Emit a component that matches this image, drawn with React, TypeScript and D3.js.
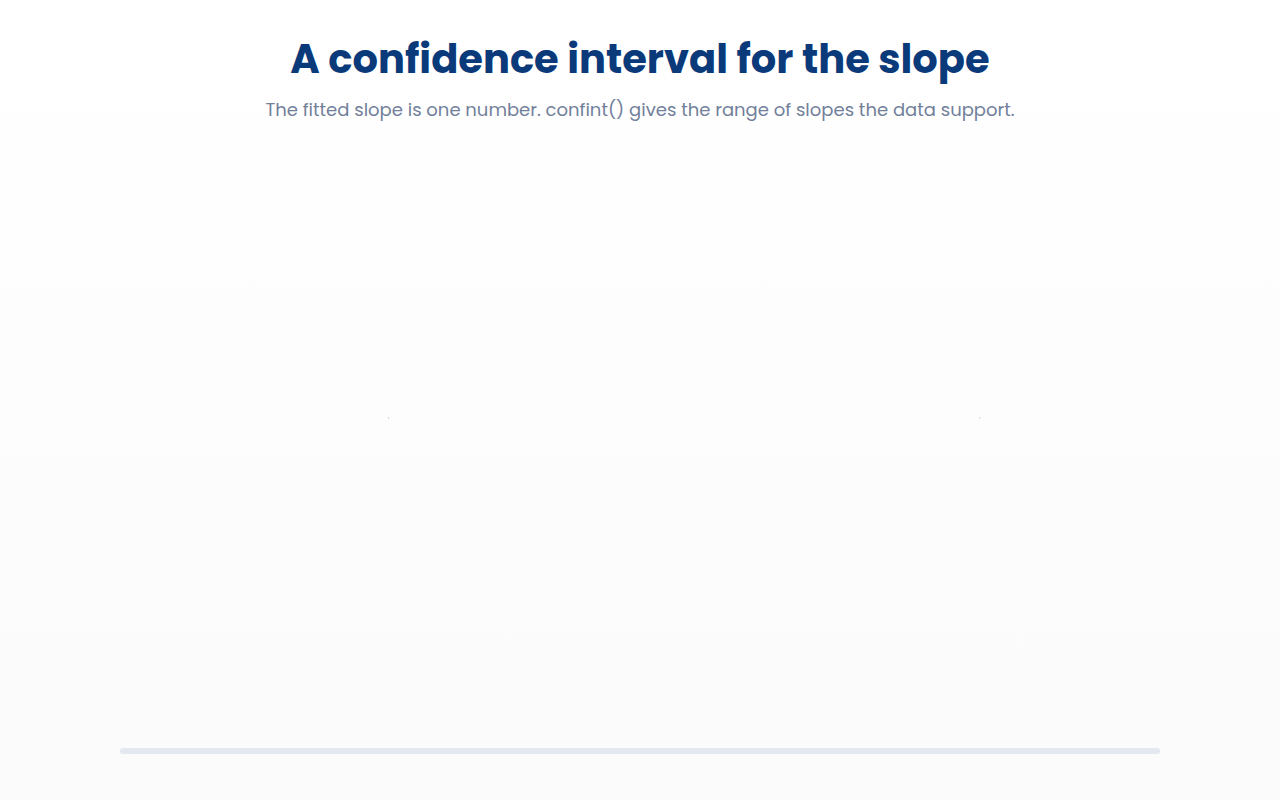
import React, { useRef, useEffect } from 'react';
import * as d3 from 'd3';

// Slope interval endpoints
const ciBounds = [0.455, 0.796];
const slopeDomain = [0.3, 0.9];

const titleText = 'A confidence interval for the slope';
const subtitleText = 'The fitted slope is one number. confint() gives the range of slopes the data support.';

const width = 1280;
const height = 800;

const App: React.FC = () => {
  const svgRef = useRef<SVGSVGElement>(null);

  useEffect(() => {
    if (!svgRef.current) return;
    const svg = d3.select(svgRef.current);
    svg.selectAll('*').remove();

    const margin = { left: 120, right: 120 };

    // soft background wash
    const grad = svg.append('defs')
      .append('linearGradient')
      .attr('id', 'bg')
      .attr('x1', 0).attr('y1', 0)
      .attr('x2', 0).attr('y2', 1);
    grad.append('stop').attr('offset', '0%').attr('stop-color', '#ffffff');
    grad.append('stop').attr('offset', '100%').attr('stop-color', '#fbfbfc');

    svg.append('rect')
      .attr('width', width)
      .attr('height', height)
      .attr('fill', 'url(#bg)');

    svg.append('text')
      .attr('x', width / 2)
      .attr('y', 73)
      .attr('text-anchor', 'middle')
      .attr('font-family', 'Poppins, "Open Sans", sans-serif')
      .attr('font-size', '40px')
      .attr('font-weight', 700)
      .attr('fill', '#0b3a7a')
      .text(titleText);

    svg.append('text')
      .attr('x', width / 2)
      .attr('y', 116)
      .attr('text-anchor', 'middle')
      .attr('font-family', 'Poppins, "Open Sans", sans-serif')
      .attr('font-size', '18px')
      .attr('fill', '#72809a')
      .text(subtitleText);

    const x = d3.scaleLinear()
      .domain(slopeDomain)
      .range([margin.left, width - margin.right]);

    // interval end points (collapsed)
    svg.selectAll('.ci-end')
      .data(ciBounds)
      .enter()
      .append('circle')
      .attr('cx', d => x(d))
      .attr('cy', 418)
      .attr('r', 0.8)
      .attr('fill', '#c8ccd4');

    // slider track
    svg.append('rect')
      .attr('x', x(slopeDomain[0]))
      .attr('y', 748)
      .attr('width', x(slopeDomain[1]) - x(slopeDomain[0]))
      .attr('height', 6)
      .attr('rx', 3)
      .attr('fill', '#e4e8f0');
  }, []);

  return (
    <svg
      ref={svgRef}
      width={width}
      height={height}
      style={{ position: 'absolute', left: 0, top: 0, display: 'block' }}
    />
  );
};

export default App;
